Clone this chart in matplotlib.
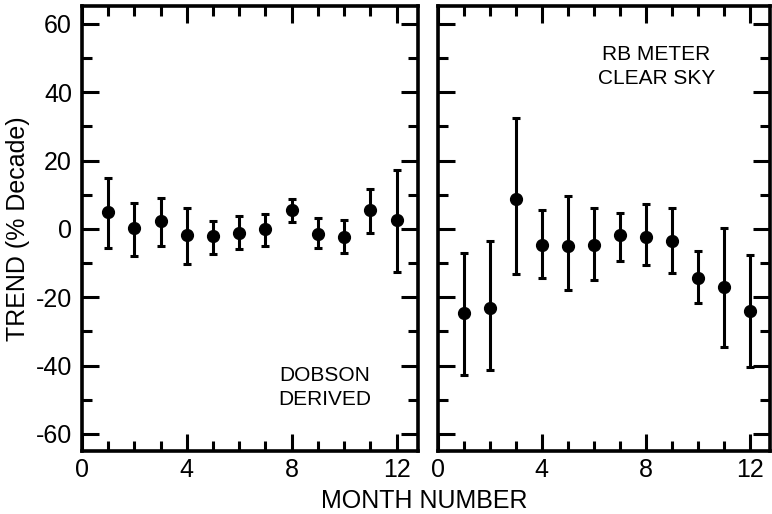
import matplotlib
matplotlib.use("Agg")
import matplotlib.pyplot as plt
from matplotlib.ticker import MultipleLocator

plt.rcParams['font.family'] = ['Liberation Sans', 'DejaVu Sans']

months = list(range(1, 13))

dobson_val = [4.9, 0.2, 2.4, -1.7, -2.2, -1.3, 0.0, 5.6, -1.6, -2.4, 5.6, 2.7]
dobson_hi = [14.9, 7.6, 9.2, 6.0, 2.4, 3.7, 4.3, 8.8, 3.3, 2.6, 11.7, 17.2]
dobson_lo = [-5.6, -7.8, -4.9, -10.2, -7.3, -5.8, -5.1, 2.0, -5.6, -7.0, -1.2, -12.5]

rb_val = [-24.6, -23.1, 8.8, -4.7, -5.1, -4.7, -1.8, -2.3, -3.4, -14.3, -17.1, -23.9]
rb_hi = [-7.0, -3.6, 32.5, 5.6, 9.6, 6.2, 4.7, 7.4, 6.2, -6.5, 0.2, -7.6]
rb_lo = [-42.7, -41.2, -13.3, -14.3, -17.9, -14.9, -9.3, -10.7, -13.0, -21.7, -34.6, -40.4]

xticks = [0, 4, 8, 12]
yticks = [-60, -40, -20, 0, 20, 40, 60]

fig = plt.figure(figsize=(7.72, 5.14), dpi=100)
ax1 = fig.add_axes([0.106, 0.1226, 0.435, 0.866])
ax2 = fig.add_axes([0.567, 0.1226, 0.431, 0.866])

def style(ax, show_ylabels):
    ax.set_xlim(0, 12.8)
    ax.set_ylim(-65, 65.3)
    ax.set_xticks(xticks)
    ax.set_yticks(yticks)
    ax.xaxis.set_minor_locator(MultipleLocator(1))
    ax.yaxis.set_minor_locator(MultipleLocator(10))
    ax.tick_params(which='both', direction='in', top=True, right=True,
                   width=2.2, labelsize=18)
    ax.tick_params(axis='y', pad=7)
    ax.tick_params(axis='x', pad=5)
    ax.tick_params(which='major', length=12)
    ax.tick_params(which='minor', length=7)
    for s in ax.spines.values():
        s.set_linewidth(2.6)
    if not show_ylabels:
        ax.set_yticklabels([])
    else:
        ax.set_yticklabels([str(t) for t in yticks])

def draw(ax, val, hi, lo):
    yerr = [[v - l for v, l in zip(val, lo)], [h - v for v, h in zip(val, hi)]]
    ax.errorbar(months, val, yerr=yerr, fmt='o', color='black', ms=8.5,
                elinewidth=2.2, capsize=3.2, capthick=2.2)

draw(ax1, dobson_val, dobson_hi, dobson_lo)
draw(ax2, rb_val, rb_hi, rb_lo)
style(ax1, True)
style(ax2, False)

ax1.text(9.27, -46.5, 'DOBSON\nDERIVED', ha='center', va='center', fontsize=15,
         linespacing=1.35)
ax2.text(8.42, 47.5, 'RB METER\nCLEAR SKY', ha='center', va='center', fontsize=15,
         linespacing=1.35)

ax1.set_ylabel('TREND (% Decade)', fontsize=18, labelpad=4)
fig.text(0.55, 0.025, 'MONTH NUMBER', ha='center', va='center', fontsize=18)

fig.savefig('out.png', dpi=100)
